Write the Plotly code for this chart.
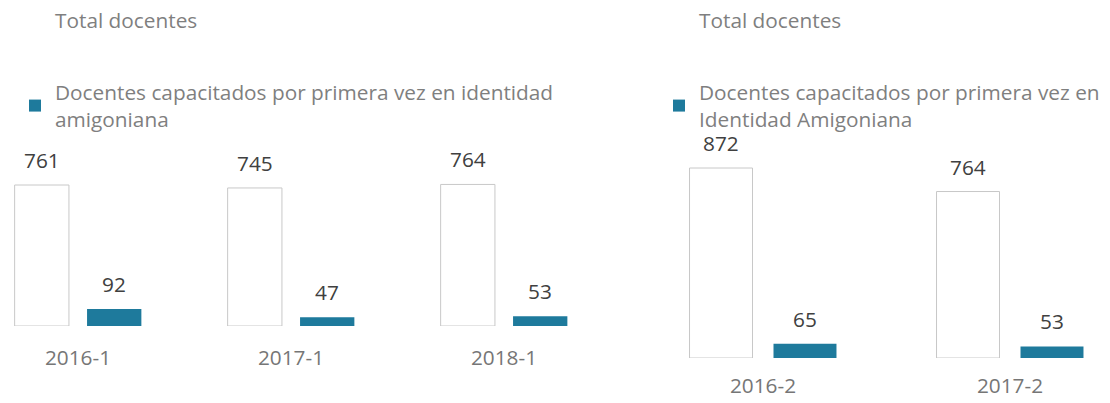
import plotly.graph_objects as go

# ---- data ----
cats_left = ["2016-1", "2017-1", "2018-1"]
total_left = [761, 745, 764]
cap_left = [92, 47, 53]

cats_right = ["2016-2", "2017-2"]
total_right = [872, 764]
cap_right = [65, 53]

name_total = "Total docentes"
name_cap_left = "Docentes capacitados por primera vez en identidad<br>amigoniana"
name_cap_right = "Docentes capacitados por primera vez en<br>Identidad Amigoniana"

BLUE = "#1e7a9c"
FONT = "Open Sans"
LEG_COLOR = "#7f7f7f"
LBL_COLOR = "#404040"
BARGAP = 0.32
GROUPGAP = 0.25

fig = go.Figure()

def add_panel(cats, tot, cap, capname, xa, ya, legend):
    fig.add_trace(go.Bar(x=cats, y=tot, name=name_total, showlegend=False,
                         marker=dict(color="white", line=dict(color="#c8c8c8", width=1)),
                         xaxis=xa, yaxis=ya, hoverinfo="x+y"))
    # legend-only entry for the total (white, no visible swatch)
    fig.add_trace(go.Scatter(x=[cats[0]], y=[None], mode="markers", name=name_total,
                             marker=dict(color="white", size=10, symbol="square"),
                             xaxis=xa, yaxis=ya, legend=legend, legendgroup="t" + legend,
                             hoverinfo="skip"))
    fig.add_trace(go.Bar(x=cats, y=cap, name=capname, marker=dict(color=BLUE, line=dict(width=0)),
                         xaxis=xa, yaxis=ya, legend=legend, legendgroup="c" + legend,
                         hoverinfo="x+y"))
    off = (1 - BARGAP) / 4
    for i, c in enumerate(cats):
        for val, sh in ((tot[i], -off), (cap[i], off)):
            fig.add_annotation(x=i + sh, y=val, xref=xa, yref=ya, text=str(val),
                               showarrow=False, yanchor="middle", yshift=25,
                               font=dict(family=FONT, size=20.8, color=LBL_COLOR))

add_panel(cats_left, total_left, cap_left, name_cap_left, "x", "y", "legend")
add_panel(cats_right, total_right, cap_right, name_cap_right, "x2", "y2", "legend2")

W, H = 1110, 403

def xrange(center0_px, spacing_px, d0, d1):
    return [(d0 * W - center0_px) / spacing_px, (d1 * W - center0_px) / spacing_px]

def ydom(bottom_px, top_px):
    return [1 - bottom_px / H, 1 - top_px / H]

legfont = dict(family=FONT, size=20.8, color=LEG_COLOR)
tickfont = dict(family=FONT, size=20.8, color="#767676")
fig.update_layout(
    width=W, height=H,
    margin=dict(l=0, r=0, t=0, b=0, autoexpand=False),
    paper_bgcolor="white", plot_bgcolor="white",
    barmode="group", bargap=BARGAP, bargroupgap=GROUPGAP,
    font=dict(family=FONT),
    xaxis=dict(type="category", domain=[0, 0.55], range=xrange(78, 213, 0, 0.55), anchor="y",
               showgrid=False, zeroline=False, showline=False, ticks="outside", ticklen=13,
               tickcolor="rgba(0,0,0,0)", tickfont=tickfont, automargin=False),
    yaxis=dict(domain=ydom(326, 140), range=[0, 186 / (141 / 761)], visible=False, anchor="x"),
    xaxis2=dict(type="category", domain=[0.58, 1], range=xrange(763, 247, 0.58, 1), anchor="y2",
                showgrid=False, zeroline=False, showline=False, ticks="outside", ticklen=9,
                tickcolor="rgba(0,0,0,0)", tickfont=tickfont, automargin=False),
    yaxis2=dict(domain=ydom(358, 140), range=[0, 218 / (190 / 872)], visible=False, anchor="x2"),
    legend=dict(x=15 / W, y=1, xanchor="left", yanchor="top", font=legfont,
                tracegroupgap=42, traceorder="grouped", bgcolor="rgba(0,0,0,0)"),
    legend2=dict(x=659 / W, y=1, xanchor="left", yanchor="top", font=legfont,
                 tracegroupgap=42, traceorder="grouped", bgcolor="rgba(0,0,0,0)"),
    showlegend=True,
)

# remove the default 8px page margin so the figure fills the window exactly
fig.write_html("out.html", config={"displayModeBar": False},
               post_script="document.body.style.margin='0';")
